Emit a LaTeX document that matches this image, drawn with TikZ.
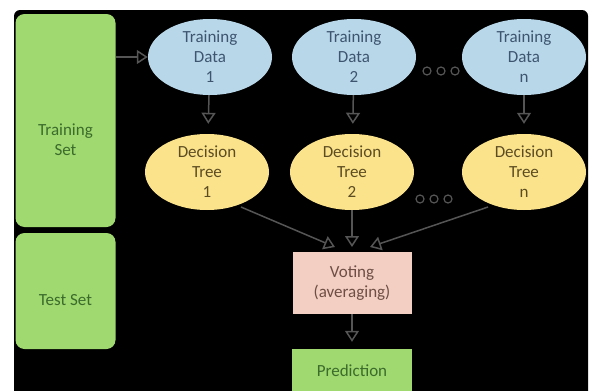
\documentclass[tikz,border=0pt]{standalone}
\usepackage{fontspec}
\setmainfont{Carlito}
\usetikzlibrary{arrows.meta,shapes.geometric}

\definecolor{setgreen}{HTML}{9FD96F}
\definecolor{settext}{HTML}{3C6B2C}
\definecolor{datablue}{HTML}{B8D8EA}
\definecolor{datatext}{HTML}{3E5570}
\definecolor{treeyellow}{HTML}{FBE38C}
\definecolor{treetext}{HTML}{5C4C22}
\definecolor{votepink}{HTML}{F3CFC3}
\definecolor{votetext}{HTML}{6E4E44}
\definecolor{arrowgray}{HTML}{555555}

\tikzset{
  bigfont/.style={font=\fontsize{17}{20}\selectfont},
  setbox/.style={fill=setgreen, rounded corners=9pt, minimum width=100pt, inner sep=0pt},
  settxt/.style={bigfont, text=settext, align=center},
  databag/.style={ellipse, fill=datablue, text=datatext, bigfont, align=center,
    minimum width=124pt, minimum height=76pt, inner sep=0pt},
  treebag/.style={ellipse, fill=treeyellow, text=treetext, bigfont, align=center,
    minimum width=124pt, minimum height=76pt, inner sep=0pt},
  votebox/.style={fill=votepink, text=votetext, bigfont, align=center,
    minimum width=119pt, minimum height=62pt, inner sep=0pt},
  predbox/.style={fill=setgreen, text=settext, bigfont, align=center,
    minimum width=120pt, minimum height=44pt, inner sep=0pt},
  flow/.style={draw=arrowgray, line width=1.5pt, -{Triangle[open, length=11pt, width=14pt]}},
  dot/.style={draw=arrowgray, line width=1.2pt}
}

\begin{document}
\begin{tikzpicture}[x=1pt, y=-1pt]
  \useasboundingbox (0,0) rectangle (590,391);
  \fill [white] (0,0) rectangle (590,391);
  \fill [black, rounded corners=6pt] (14,10) rectangle (588,400);

  % left column
  \node [setbox, minimum height=213pt] (trainset) at (65.5,120.5) {};
  \node [settxt] (trainsettxt) at (65.5,140) {Training\\Set};
  \node [setbox, minimum height=116pt] (testset) at (65.5,291) {};
  \node [settxt] (testsettxt) at (65.5,300) {Test Set};

  % bootstrap samples
  \node [databag] (data1) at (210,57) {Training\\Data\\1};
  \node [databag] (data2) at (354,57) {Training\\Data\\2};
  \node [databag] (datan) at (524,57) {Training\\Data\\n};

  % trees
  \node [treebag] (tree1) at (207,172) {Decision\\Tree\\1};
  \node [treebag] (tree2) at (352,172) {Decision\\Tree\\2};
  \node [treebag] (treen) at (524,172) {Decision\\Tree\\n};

  % aggregation
  \node [votebox] (vote) at (352,283) {Voting\\(averaging)};
  \node [predbox] (pred) at (352,371) {Prediction};

  \coordinate (in1) at (335,247);
  \coordinate (in2) at (352,247);
  \coordinate (inn) at (370,247);

  \draw [flow] (trainset.east |- data1) -- (data1.west);
  \draw [flow, shorten >=10pt] (data1) -- (tree1);
  \draw [flow, shorten >=10pt] (data2) -- (tree2);
  \draw [flow, shorten >=10pt] (datan) -- (treen);
  \draw [flow] (tree1.south east) ++(-10,8) -- (in1);
  \draw [flow] (tree2.south) -- (in2);
  \draw [flow] (treen.south west) ++(8,8) -- (inn);
  \draw [flow, shorten >=7pt] (vote) -- (pred);

  % the dots
  \foreach \x in {427,441,455} {
    \draw [dot] (\x,71) circle [radius=4pt];
  }
  \foreach \x in {420,434,448} {
    \draw [dot] (\x,199) circle [radius=4pt];
  }
\end{tikzpicture}
\end{document}
